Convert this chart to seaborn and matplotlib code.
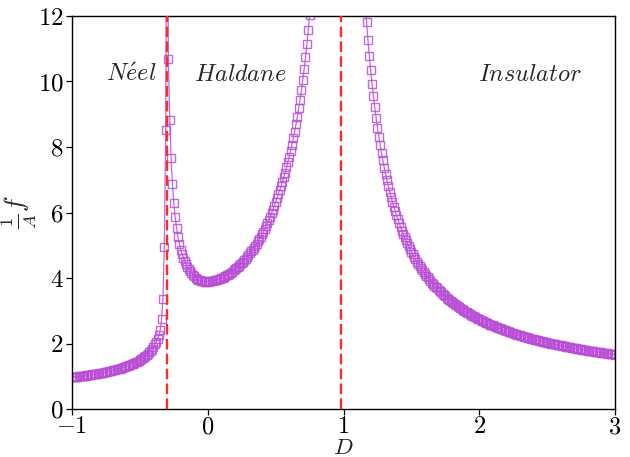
import numpy as np
import pandas as pd
import matplotlib
matplotlib.use("Agg")
import matplotlib.pyplot as plt
import seaborn as sns

# sampling grid of the anisotropy D (step 0.01 from -1 to 3)
D = np.round(np.arange(-100, 301) * 0.01, 2)

# D = -1.00 ... -0.31  (Neel region)
f_neel = [0.97, 0.98, 0.98, 0.99, 0.99, 1.00, 1.00, 1.01, 1.01, 1.02,
          1.02, 1.03, 1.04, 1.04, 1.05, 1.06, 1.06, 1.07, 1.08, 1.08,
          1.09, 1.10, 1.11, 1.11, 1.12, 1.13, 1.14, 1.15, 1.16, 1.17,
          1.18, 1.19, 1.20, 1.21, 1.22, 1.23, 1.25, 1.26, 1.27, 1.29,
          1.30, 1.32, 1.33, 1.35, 1.37, 1.38, 1.40, 1.43, 1.45, 1.47,
          1.50, 1.52, 1.55, 1.58, 1.62, 1.65, 1.69, 1.74, 1.78, 1.84,
          1.90, 1.97, 2.04, 2.14, 2.26, 2.42, 2.74, 3.37, 4.95, 8.53]
# D = -0.30 (peak, off the top of the axes)
f_peak = [20.0]
# D = -0.29 ... 0.76  (Haldane region)
f_haldane = [10.69, 8.83, 7.65, 6.86, 6.29, 5.85, 5.53, 5.26, 5.05, 4.87,
             4.74, 4.62, 4.52, 4.43, 4.35, 4.28, 4.21, 4.15, 4.10, 4.05,
             4.01, 3.98, 3.95, 3.93, 3.92, 3.91, 3.90, 3.89, 3.89, 3.89,
             3.90, 3.90, 3.91, 3.92, 3.93, 3.94, 3.95, 3.96, 3.98, 3.99,
             4.01, 4.03, 4.05, 4.08, 4.10, 4.13, 4.16, 4.19, 4.23, 4.26,
             4.30, 4.34, 4.38, 4.42, 4.46, 4.50, 4.55, 4.59, 4.64, 4.69,
             4.75, 4.81, 4.87, 4.93, 4.99, 5.05, 5.12, 5.19, 5.26, 5.33,
             5.41, 5.50, 5.59, 5.68, 5.77, 5.87, 5.98, 6.09, 6.20, 6.32,
             6.43, 6.55, 6.68, 6.81, 6.94, 7.08, 7.22, 7.38, 7.54, 7.70,
             7.88, 8.07, 8.26, 8.47, 8.69, 8.93, 9.18, 9.45, 9.74, 10.05,
             10.38, 10.74, 11.13, 11.56, 12.03, 12.54]
# D = 0.77 ... 1.16  (around the second transition, mostly off the axes)
f_center = [13.1, 13.7, 14.4, 15.2, 16.1, 17.1, 18.2, 19.6, 21.1, 23.0,
            25.2, 28.0, 31.6, 36.2, 42.5, 51.6, 65.8, 91.6, 151.6, 451.6,
            600.0,
            225.6, 113.1, 75.6, 56.8, 45.6, 38.1, 32.7, 28.7, 25.6, 23.1,
            21.0, 19.3, 17.9, 16.6, 15.6, 14.6, 13.8, 13.06, 12.40]
# D = 1.17 ... 3.00  (insulator region)
f_insulator = [11.81, 11.27, 10.78, 10.34, 9.93, 9.56, 9.21, 8.89, 8.59, 8.31,
               8.06, 7.81, 7.59, 7.37, 7.17, 6.98, 6.81, 6.64, 6.48, 6.32,
               6.18, 6.04, 5.91, 5.79, 5.67, 5.56, 5.45, 5.34, 5.24, 5.15,
               5.06, 4.97, 4.88, 4.80, 4.72, 4.65, 4.57, 4.50, 4.43, 4.37,
               4.31, 4.24, 4.18, 4.13, 4.07, 4.02, 3.96, 3.91, 3.86, 3.82,
               3.77, 3.72, 3.68, 3.64, 3.60, 3.56, 3.52, 3.48, 3.44, 3.40,
               3.37, 3.33, 3.30, 3.27, 3.23, 3.20, 3.17, 3.14, 3.11, 3.08,
               3.06, 3.03, 3.00, 2.97, 2.95, 2.92, 2.90, 2.87, 2.85, 2.83,
               2.81, 2.78, 2.76, 2.74, 2.72, 2.70, 2.68, 2.66, 2.64, 2.62,
               2.60, 2.58, 2.56, 2.55, 2.53, 2.51, 2.49, 2.48, 2.46, 2.45,
               2.43, 2.41, 2.40, 2.38, 2.37, 2.36, 2.34, 2.33, 2.31, 2.30,
               2.29, 2.27, 2.26, 2.25, 2.23, 2.22, 2.21, 2.20, 2.19, 2.17,
               2.16, 2.15, 2.14, 2.13, 2.12, 2.11, 2.10, 2.09, 2.08, 2.07,
               2.06, 2.05, 2.04, 2.03, 2.02, 2.01, 2.00, 1.99, 1.98, 1.97,
               1.96, 1.95, 1.94, 1.94, 1.93, 1.92, 1.91, 1.90, 1.89, 1.89,
               1.88, 1.87, 1.86, 1.86, 1.85, 1.84, 1.83, 1.83, 1.82, 1.81,
               1.81, 1.80, 1.79, 1.78, 1.78, 1.77, 1.76, 1.76, 1.75, 1.75,
               1.74, 1.73, 1.73, 1.72, 1.71, 1.71, 1.70, 1.70, 1.69, 1.69,
               1.68, 1.67, 1.67, 1.66]

transitions = [-0.30, 0.98]
phase_labels = [r"$N\acute{e}el$", r"$Haldane$", r"$Insulator$"]
phase_x = [-0.56, 0.24, 2.37]
phase_y = 10.2

f = np.array(f_neel + f_peak + f_haldane + f_center + f_insulator)
df = pd.DataFrame({"D": D, "f": f})

sns.set_theme(style="ticks")
plt.rcParams["font.family"] = "serif"
plt.rcParams["font.serif"] = ["cmr10", "DejaVu Serif"]
plt.rcParams["mathtext.fontset"] = "cm"
plt.rcParams["axes.formatter.use_mathtext"] = True
plt.rcParams["axes.unicode_minus"] = True

fig = plt.figure(figsize=(6.3, 4.57), dpi=100)
ax = fig.add_axes([0.1143, 0.1050, 0.8619, 0.8600])

purple = "#b94fd6"
sns.lineplot(data=df, x="D", y="f", ax=ax, sort=False, estimator=None,
             color=purple, lw=0.9, marker="s", markersize=6,
             markerfacecolor="none", markeredgecolor=purple,
             markeredgewidth=1.0, alpha=0.85)
for ln in ax.lines:
    ln.set_markerfacecolor("none")
    ln.set_markeredgecolor(purple)

for xv in transitions:
    ax.axvline(xv, color="#ff2a2a", lw=1.7, dashes=(4.5, 1.8), zorder=5)

for lab, xv in zip(phase_labels, phase_x):
    ax.text(xv, phase_y, lab, fontsize=17.5, ha="center", va="center")

ax.set_xlim(-1, 3)
ax.set_ylim(0, 12)
ax.set_xticks([-1, 0, 1, 2, 3])
ax.set_yticks([0, 2, 4, 6, 8, 10, 12])
ax.set_xlabel(r"$D$", fontsize=16.5, labelpad=0)
ax.set_ylabel(r"$\frac{1}{A}\bar{f}$", fontsize=19, labelpad=-1)
ax.tick_params(axis="both", labelsize=18, direction="out", length=4,
               width=0.9, colors="black", pad=2)
ax.tick_params(axis="x", labelsize=17.5, pad=1)
for sp in ax.spines.values():
    sp.set_visible(True)
    sp.set_color("black")
    sp.set_linewidth(1.0)

fig.savefig("out.png", dpi=100)
